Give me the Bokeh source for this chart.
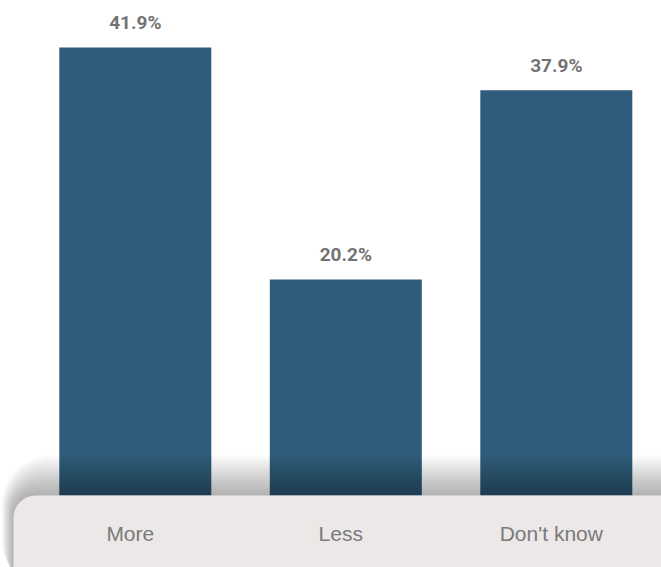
from bokeh.plotting import figure
from bokeh.models import BoxAnnotation, ColumnDataSource, Range1d
from bokeh.core.properties import value
from bokeh.embed import file_html
from bokeh.resources import INLINE

categories = ["More", "Less", "Don't know"]
values = [41.9, 20.2, 37.9]
labels = ["41.9%", "20.2%", "37.9%"]

W, H = 661, 567
px_x = 210.5          # pixels per category step
px_y = 10.69          # pixels per percent
x0 = -134.8 / px_x
y0 = -(567 - 495) / px_y

p = figure(width=W, height=H, output_backend="svg", toolbar_location=None,
           x_range=Range1d(x0, x0 + W / px_x), y_range=Range1d(y0, y0 + H / px_y),
           min_border=0, outline_line_color=None)
p.axis.visible = False
p.grid.visible = False
p.background_fill_color = "white"
p.border_fill_color = "white"

xs = list(range(len(categories)))
src = ColumnDataSource(dict(x=xs, top=values, lab=labels, cat=categories,
                            lx=[x - 5 / px_x for x in xs],
                            ly=[v + 25 / px_y for v in values],
                            cy=[-(533 - 495) / px_y] * len(categories)))
p.vbar(x="x", top="top", width=152 / px_x, bottom=0, source=src,
       fill_color="#2e5c7a", line_color=None)

# shadow layers for bottom panel
box_left = x0 + 13 / px_x
right_end = x0 + W / px_x + 1
n = 16
for i in range(n, 0, -1):
    d = i * 2.5
    p.add_layout(BoxAnnotation(left=box_left - d * 0.3 / px_x, right=right_end,
                               bottom=y0 - 2, top=d / px_y,
                               fill_color="black", fill_alpha=0.0195, line_color=None,
                               border_radius=int(22 + d * 0.7), level="annotation"))
p.add_layout(BoxAnnotation(left=box_left, right=right_end, bottom=y0 - 2, top=0,
                           fill_color="#ece8e7", fill_alpha=1, line_color=None,
                           border_radius=22, level="annotation"))

p.text(x="x", y="ly", text="lab", source=src, text_align="center", text_baseline="alphabetic",
       text_font=value("Roboto"), text_font_style="bold", text_font_size="19px",
       text_color="#737373", level="overlay")
p.text(x="lx", y="cy", text="cat", source=src, text_align="center", text_baseline="middle",
       text_font=value("Liberation Sans"), text_font_size="21px",
       text_color="#7a7a7a", level="overlay")

open("out.html", "w").write(file_html(p, INLINE))
